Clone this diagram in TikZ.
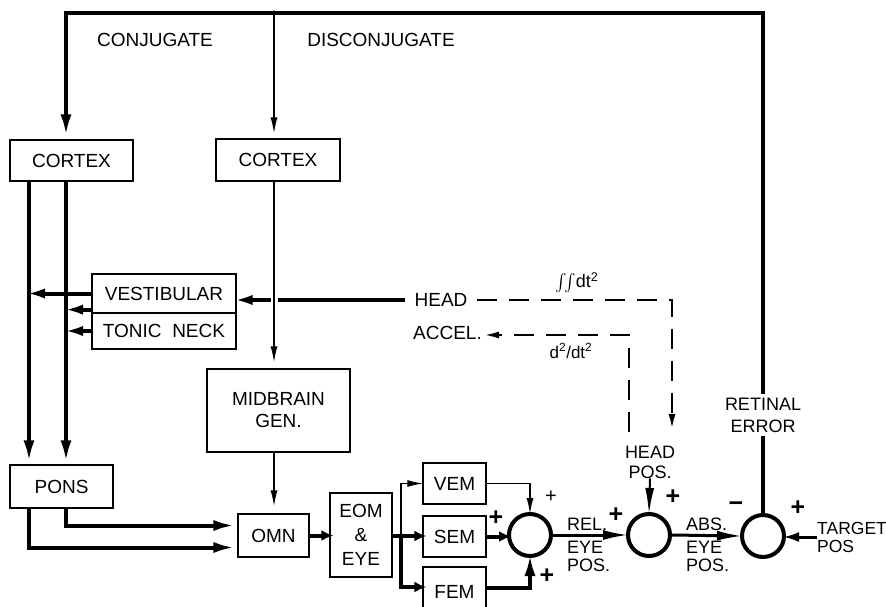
\documentclass[tikz,border=0pt]{standalone}
\usepackage{exscale}
\usepackage{fontspec}
\setmainfont{Liberation Sans}
\usetikzlibrary{arrows.meta}
\newcommand\myfs{\fontsize{19}{22}\selectfont}
\newcommand\mysm{\fontsize{18}{18}\selectfont}
\begin{document}
\begin{tikzpicture}[x=1pt,y=-1pt,
  box/.style={draw,line width=1.3pt,inner sep=0pt,font=\myfs,align=center},
  lbl/.style={inner sep=0pt,font=\myfs,align=center},
  slbl/.style={inner sep=0pt,font=\mysm,align=left},
  pls/.style={inner sep=0pt,font=\fontsize{25}{25}\selectfont\bfseries},
  thk/.style={line width=4pt},
  mid/.style={line width=3pt},
  thn/.style={line width=1.4pt},
  dsh/.style={line width=2.5pt,dash pattern=on 20pt off 12pt},
  sumc/.style={circle,draw,line width=4pt,minimum size=42pt,inner sep=0pt},
  tipT/.style={-{Latex[length=22pt,width=11pt]}},
  tipL/.style={-{Latex[length=26pt,width=10pt]}},
  tipV/.style={-{Latex[length=20pt,width=10pt]}},
  tipS/.style={-{Latex[length=12pt,width=11pt]}},
  tipN/.style={-{Latex[length=16pt,width=7pt]}},
]
\fill[white] (0,0) rectangle (886,607);
\useasboundingbox (0,0) rectangle (886,607);

% boxes
\node[box,minimum width=123pt,minimum height=41pt] (cortexA) at (71.5,160.5) {CORTEX};
\node[box,minimum width=124pt,minimum height=42pt] (cortexB) at (278,160) {CORTEX};
\node[box,minimum width=144pt,minimum height=39pt] (vest) at (164,293.5) {VESTIBULAR};
\node[box,minimum width=144pt,minimum height=36pt] (tonic) at (164,331) {TONIC\ \ NECK};
\node[box,minimum width=143pt,minimum height=83pt] (midbrain) at (278.5,410.5) {MIDBRAIN\\GEN.};
\node[box,minimum width=103pt,minimum height=43pt] (pons) at (61.5,486.5) {PONS};
\node[box,minimum width=71pt,minimum height=43pt] (omn) at (273.5,535.5) {OMN};
\node[box,minimum width=62pt,minimum height=84pt,font=\fontsize{19}{24}\selectfont] (eom) at (361,535) {EOM\\\&\\EYE};
\node[box,minimum width=63pt,minimum height=41pt] (vem) at (454.5,483.5) {VEM};
\node[box,minimum width=63pt,minimum height=41pt] (sem) at (454.5,536.5) {SEM};
\node[box,minimum width=63pt,minimum height=50pt] (fem) at (454.5,592) {FEM};

% summing junctions
\node[sumc] (c1) at (530,535) {};
\node[sumc] (c2) at (649,535) {};
\node[sumc] (c3) at (763,536) {};

% labels
\node[lbl] (conj) at (155,40) {CONJUGATE};
\node[lbl] (disconj) at (381,40) {DISCONJUGATE};
\node[lbl,inner xsep=9pt] (head) at (441,300) {HEAD};
\node[lbl,anchor=west] (accel) at (413,333) {ACCEL.};
\node[lbl,font=\fontsize{18}{18}\selectfont] (intl) at (577,283) {$\int\!\!\int$dt\textsuperscript{2}};
\node[lbl,font=\fontsize{17}{17}\selectfont] (diffl) at (571,351) {d\textsuperscript{2}/dt\textsuperscript{2}};
\node[lbl,font=\fontsize{18}{20}\selectfont] (headpos) at (650,462) {HEAD\\POS.};
\node[slbl,anchor=west] (rel) at (567,524) {REL.};
\node[slbl,anchor=north west] (eye1) at (567,541) {EYE\\POS.};
\node[slbl,anchor=west] (abs) at (686,524) {ABS.};
\node[slbl,anchor=north west] (eye2) at (686,541) {EYE\\POS.};
\node[slbl,anchor=west,font=\fontsize{17.5}{18}\selectfont] (target) at (817,537) {TARGET\\POS};

% signs
\node[inner sep=0pt,font=\fontsize{20}{20}\selectfont] (p1) at (551,497) {+};
\node[pls] (p2) at (496,518) {+};
\node[pls] (p3) at (547,576) {+};
\node[pls] (p4) at (616,515) {+};
\node[pls] (p5) at (673,497) {+};
\node[pls] (m1) at (736,507) {−};
\node[pls] (p6) at (798,508) {+};

% coordinates
\coordinate (tl) at (66,13);
\coordinate (tm) at (274,13);
\coordinate (tr) at (763,13);
\coordinate (xL) at (29,0);
\coordinate (fk) at (401,536);
\coordinate (d1c) at (672,300);
\coordinate (d1e) at (672,430);
\coordinate (d2s) at (629,432);
\coordinate (d2c) at (629,335);

% main feedback loop
\draw[thk,tipT,shorten >=3pt] (c3.north) -- (tr) -- (tl) -- (tl |- cortexA.north);
\node[lbl,fill=white,inner sep=4pt,font=\fontsize{18}{22}\selectfont] (retinal) at (763,415) {RETINAL\\ERROR};
\fill (tm) circle (2.5pt);
\draw[thn,tipN,shorten >=5pt] (tm) -- (tm |- cortexB.north);

% cortex to pons
\draw[thk,tipT,shorten >=2pt] (cortexA.south -| xL) -- (pons.north -| xL);
\draw[thk,tipT,shorten >=2pt] (cortexA.south -| tl) -- (pons.north -| tl);

% vestibular / tonic neck
\draw[thk,tipV,shorten >=-4pt] (vest.west) -- (vest.west -| xL);
\draw[thk,tipV,shorten >=-3pt] ([yshift=4pt]vest.south west) -- ([yshift=4pt]vest.south west -| tl);
\draw[thk,tipV,shorten >=-3pt] (tonic.west) -- (tonic.west -| tl);
\draw[thk,tipV,shorten >=-4pt] (head.west) -- (head.west -| vest.east);

% disconjugate path
\draw[thn,tipN,shorten >=6pt,preaction={draw=white,line width=7pt}] (cortexB.south -| tm) -- (midbrain.north -| tm);
\draw[thn,tipN,shorten >=7pt] (midbrain.south -| tm) -- (omn.north -| tm);

% pons to omn
\draw[thk,tipT,shorten >=2pt] (pons.south -| tl) |- ([yshift=10pt]omn.west);
\draw[thk,tipT,shorten >=2pt] (pons.south -| xL) |- ([yshift=-12pt]omn.west);

% omn to eom, fork
\draw[thk,tipS,shorten >=-4pt] (omn.east) -- (eom.west |- omn.east);
\draw[thk] (eom.east |- fk) -- (fk);
\draw[thk,tipS,shorten >=-4pt] (fk) -- (sem.west |- fk);
\draw[thk,tipS,shorten >=-4pt] (fk) |- ([yshift=5pt]fem.west);
\draw[thn,tipN,shorten >=-1pt] (fk) |- (vem.west);

% into first sum
\draw[thn,tipN,shorten >=-2pt] (vem.east) -| (c1.north);
\draw[thk,tipS,shorten >=-4pt] (sem.east) -- (c1.west |- sem.east);
\draw[thk,tipT,shorten >=-4pt] ([yshift=4pt]fem.east) -| (c1.south);

% chain of sums
\draw[mid,tipL,shorten >=-3pt] (c1.east) -- (c2.west);
\draw[mid,tipL,shorten >=-3pt] (c2.east) -- (c3.west);
\draw[line width=2pt,-{Latex[length=26pt,width=9pt]},shorten >=-2pt] (headpos.south) -- (c2.north);
\draw[mid,-{Latex[length=16pt,width=10pt]},shorten >=-3pt] (target.west) -- (target.west -| c3.east);

% dashed head paths
\draw[dsh,tipN] (head.east) -- (d1c) -- (d1e);
\draw[dsh,tipN,shorten >=1pt] (d2s) -- (d2c) -- (d2c -| accel.east);
\end{tikzpicture}
\end{document}
